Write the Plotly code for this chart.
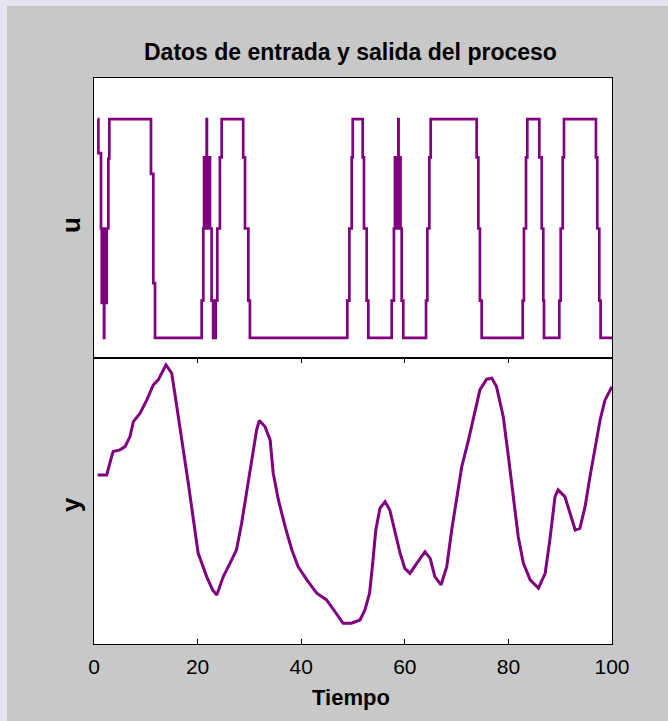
import plotly.graph_objects as go
from plotly.subplots import make_subplots

# ---- input signal u (stairs: value holds from each time until the next) ----
u_time = [0.7, 0.85, 1.35, 1.50, 1.60, 1.75, 1.85, 1.93, 1.98, 2.10, 2.20, 2.32, 2.38, 2.45, 2.77, 2.96,
          11.0, 11.45, 11.78,
          20.78, 21.1, 21.25, 21.38, 21.5, 21.62, 21.75, 21.8, 21.92, 22.05, 22.17, 22.3, 22.39, 22.7, 23.0,
          23.5, 23.8, 24.3, 24.65,
          28.8, 29.15, 29.8, 30.1,
          48.9, 49.3, 49.75, 49.95,
          51.87, 52.12, 52.64, 52.96,
          57.47, 57.9, 58.1, 58.22, 58.35, 58.47, 58.6, 58.75, 58.8, 58.92, 59.05, 59.17, 59.27, 59.4, 59.7,
          64.1, 64.35, 64.74, 65.0,
          73.87, 74.2, 74.5, 74.84,
          82.76, 83.0, 83.4, 83.65,
          85.97, 86.43, 86.74, 86.87,
          89.83, 90.1, 90.48, 90.73,
          96.9, 97.16, 97.55, 97.8,
          100.0]
u_value = [1, 0.69, 0, -0.68, 0, -0.68, 0, -1, -0.68, 0, -0.68, 0, -0.68, 0, 0.64, 1,
           0.5, -0.5, -1,
           -0.66, 0, 0.65, 0, 0.65, 0, 1, 0.65, 0, 0.65, 0, 0.65, 0, -0.66, -1,
           -0.66, 0, 0.65, 1,
           0.65, 0, -0.66, -1,
           -0.66, 0, 0.65, 1,
           0.65, 0, -0.66, -1,
           -0.66, 0, 0.65, 0, 0.65, 0, 0.65, 1, 0.65, 0, 0.65, 0, 0, -0.66, -1,
           -0.66, 0, 0.65, 1,
           0.65, 0, -0.66, -1,
           -0.66, 0, 0.65, 1,
           0.65, 0, -0.66, -1,
           -0.66, 0, 0.65, 1,
           0.65, 0, -0.66, -1,
           -1]

# ---- output signal y ----
y_time = [0.7, 2.45, 3.4, 3.7, 5.0, 6.0, 6.95, 7.6, 8.9, 10.2, 11.45, 12.4, 13.9, 15.0, 15.6, 16.3,
          17.2, 18.2, 19.2, 20.1, 21.75, 22.9, 23.7, 24.96, 26.25, 27.5, 28.5, 29.5, 30.4, 31.4, 31.9,
          33.0, 34.0, 34.6, 35.6, 36.9, 38.2, 39.4, 41.1, 43.0, 44.9, 45.6, 46.9, 48.1, 49.7, 51.35,
          52.3, 53.2, 53.8, 54.4, 55.2, 56.2, 57.1, 58.1, 59.1, 60.0, 61.0, 62.3, 63.9, 64.9, 65.8,
          67.0, 68.1, 69.05, 70.0, 71.0, 72.3, 73.55, 74.5, 75.8, 76.8, 77.7, 79.0, 80.0, 80.95, 81.9,
          82.9, 84.2, 85.8, 87.1, 88.0, 89.0, 89.6, 90.9, 91.9, 92.9, 93.8, 94.8, 95.75, 96.7, 97.7,
          98.65, 100.0]
y_value = [0.182, 0.182, 0.310, 0.345, 0.357, 0.380, 0.450, 0.555, 0.613, 0.706, 0.811, 0.846, 0.951,
           0.893, 0.753, 0.590, 0.357, 0.124, -0.133, -0.364, -0.529, -0.622, -0.657, -0.529, -0.436,
           -0.343, -0.156, 0.077, 0.287, 0.497, 0.562, 0.520, 0.427, 0.194, 0.007, -0.180, -0.343,
           -0.459, -0.552, -0.645, -0.692, -0.727, -0.797, -0.855, -0.855, -0.832, -0.762, -0.645,
           -0.436, -0.203, -0.051, -0.005, -0.063, -0.215, -0.366, -0.471, -0.506, -0.436, -0.355,
           -0.401, -0.529, -0.587, -0.459, -0.203, 0.030, 0.240, 0.427, 0.613, 0.776, 0.851, 0.858,
           0.799, 0.590, 0.310, 0.030, -0.250, -0.436, -0.552, -0.610, -0.506, -0.273, 0.030, 0.077,
           0.030, -0.086, -0.203, -0.191, -0.040, 0.170, 0.357, 0.566, 0.706, 0.799]

x_ticks = [0, 20, 40, 60, 80, 100]
title_text = "Datos de entrada y salida del proceso"
x_label = "Tiempo"
u_label = "u"
y_label = "y"

LINE = "#800080"
BG = "#C8C8C8"
FONT = "Liberation Sans, Arial, sans-serif"

fig = make_subplots(rows=2, cols=1, shared_xaxes=False, vertical_spacing=0)
fig.add_trace(go.Scatter(x=u_time, y=u_value, mode="lines", line=dict(color=LINE, width=2.7, shape="hv"),
                         showlegend=False, hoverinfo="skip"), row=1, col=1)
fig.add_trace(go.Scatter(x=y_time, y=y_value, mode="lines", line=dict(color=LINE, width=3),
                         showlegend=False, hoverinfo="skip"), row=2, col=1)

W, H = 668, 721
L, R, T, B = 94, 56, 78, 77
fig.update_layout(
    width=W, height=H,
    margin=dict(l=L, r=R, t=T, b=B, pad=0),
    paper_bgcolor=BG, plot_bgcolor="white",
    font=dict(family=FONT, color="black"),
    yaxis=dict(domain=[0.5055, 1.0]),
    yaxis2=dict(domain=[0.0, 0.5055]),
)
common = dict(showline=True, linecolor="black", linewidth=1.2, mirror=True, showgrid=False, zeroline=False)
fig.update_xaxes(range=[0, 100], **common)
fig.update_xaxes(row=1, col=1, showticklabels=False, ticks="")
fig.update_xaxes(row=2, col=1, tickvals=x_ticks, ticks="inside", ticklen=5, tickwidth=1, tickcolor="black",
                 mirror="ticks", tickfont=dict(size=21, family=FONT, color="black"), ticklabelstandoff=4)
fig.update_yaxes(showticklabels=False, ticks="", **common)
fig.update_yaxes(row=1, col=1, range=[-1.183, 1.376])
fig.update_yaxes(row=2, col=1, range=[-1.0, 1.0])

ph = H - T - B
pw = W - L - R
def py(p):
    return (H - B - p) / ph
def px(p):
    return (p - L) / pw

fig.add_annotation(text="<b>" + title_text + "</b>", xref="paper", yref="paper", x=px(350), y=py(52),
                   showarrow=False, xanchor="center", yanchor="middle", font=dict(size=23, family=FONT))
fig.add_annotation(text="<b>" + x_label + "</b>", xref="paper", yref="paper", x=px(351), y=py(697),
                   showarrow=False, xanchor="center", yanchor="middle", font=dict(size=22, family=FONT))
fig.add_annotation(text="<b>" + u_label + "</b>", xref="paper", yref="paper", x=px(71), y=py(225),
                   showarrow=False, xanchor="center", yanchor="middle", textangle=-90,
                   font=dict(size=26, family=FONT))
fig.add_annotation(text="<b>" + y_label + "</b>", xref="paper", yref="paper", x=px(71), y=py(505),
                   showarrow=False, xanchor="center", yanchor="middle", textangle=-90,
                   font=dict(size=26, family=FONT))

# light outer bands (top and left) of the screenshot frame
band = "#E4E4F2"
fig.add_shape(type="rect", xref="paper", yref="paper", x0=px(0), x1=px(668), y0=py(6), y1=py(0),
              fillcolor=band, line=dict(width=0), layer="below")
fig.add_shape(type="rect", xref="paper", yref="paper", x0=px(0), x1=px(7), y0=py(721), y1=py(0),
              fillcolor=band, line=dict(width=0), layer="below")

fig.write_html("out.html", config={"displayModeBar": False},
               post_script="document.body.style.margin='0';document.body.style.padding='0';"
                           "document.body.style.overflow='hidden';")
